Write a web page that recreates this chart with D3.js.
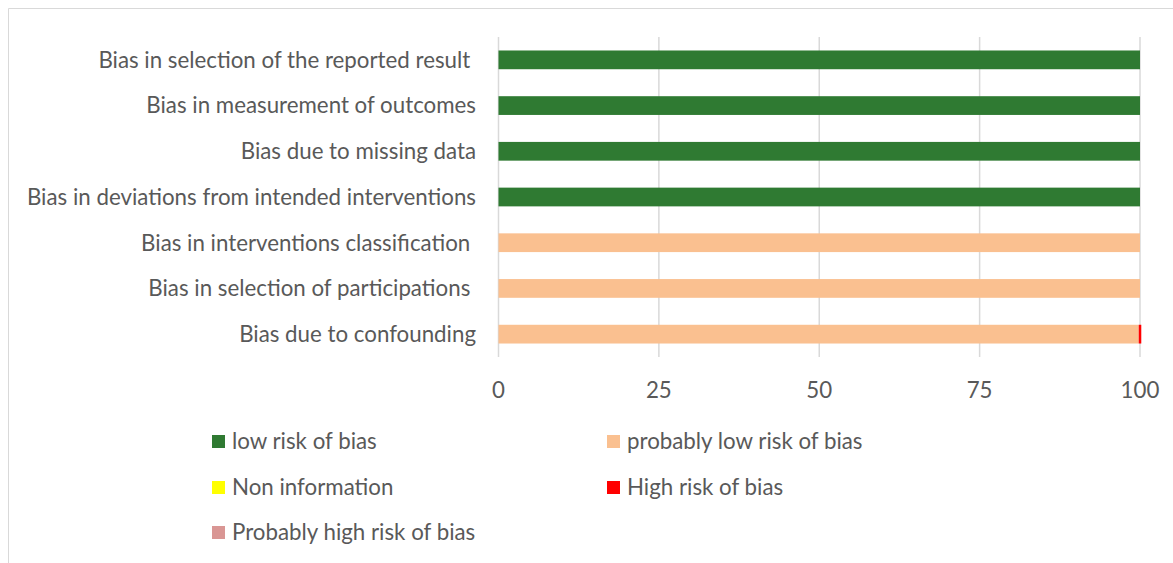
<!DOCTYPE html>
<html>
<head>
<meta charset="utf-8">
<script src="https://cdn.jsdelivr.net/npm/d3@7"></script>
<style>
  html, body { margin: 0; padding: 0; background: #fff; }
  svg text { font-family: Lato, "Open Sans", sans-serif; fill: #595959; white-space: pre; }
</style>
</head>
<body>
<svg id="chart" width="1173" height="563"></svg>
<script>
// Risk-of-bias domains, top to bottom
const domains = [
  "Bias in selection of the reported result ",
  "Bias in measurement of outcomes",
  "Bias due to missing data",
  "Bias in deviations from intended interventions",
  "Bias in interventions classification ",
  "Bias in selection of participations ",
  "Bias due to confounding"
];
const seriesNames = ["low risk of bias", "probably low risk of bias", "Non information", "High risk of bias", "Probably high risk of bias"];
const seriesColors = ["#2f7a32", "#fac090", "#ffff00", "#ff0000", "#d99694"];
// Percent of studies per judgement, one array per series (same order as domains)
const lowRisk        = [100, 100, 100, 100, 0, 0, 0];
const probablyLow    = [0, 0, 0, 0, 100, 100, 99.8];
const nonInformation = [0, 0, 0, 0, 0, 0, 0];
const highRisk       = [0, 0, 0, 0, 0, 0, 0.4];
const probablyHigh   = [0, 0, 0, 0, 0, 0, 0];
const xTicks = [0, 25, 50, 75, 100];

const fontSize = 22.3;
const svg = d3.select("#chart");

// chart frame (top and left edges visible)
svg.append("line").attr("x1", 8.5).attr("x2", 1173).attr("y1", 8.5).attr("y2", 8.5).attr("stroke", "#d9d9d9");
svg.append("line").attr("x1", 8.5).attr("x2", 8.5).attr("y1", 8.5).attr("y2", 563).attr("stroke", "#d9d9d9");

const rows = domains.map((d, i) => ({
  domain: d,
  s0: lowRisk[i], s1: probablyLow[i], s2: nonInformation[i], s3: highRisk[i], s4: probablyHigh[i]
}));
const stack = d3.stack().keys(["s0", "s1", "s2", "s3", "s4"])(rows);

const x = d3.scaleLinear().domain([0, 100]).range([498.5, 1140]);
const y = d3.scaleBand().domain(domains).range([37, 357]).paddingInner(0.59).paddingOuter(0.295);

// vertical gridlines
svg.append("g").selectAll("line").data(xTicks).join("line")
  .attr("x1", d => x(d)).attr("x2", d => x(d))
  .attr("y1", 37).attr("y2", 357)
  .attr("stroke", "#d9d9d9").attr("stroke-width", 1.5);

// stacked bars
svg.append("g").selectAll("g").data(stack).join("g")
  .attr("fill", (d, i) => seriesColors[i])
  .selectAll("rect").data(d => d).join("rect")
  .attr("x", d => x(d[0]))
  .attr("y", d => y(d.data.domain))
  .attr("width", d => Math.max(0, x(d[1]) - x(d[0])))
  .attr("height", y.bandwidth());

// category labels
svg.append("g").selectAll("text").data(domains).join("text")
  .attr("x", 476).attr("y", d => y(d) + y.bandwidth() / 2)
  .attr("dy", "0.35em").attr("text-anchor", "end")
  .attr("font-size", fontSize)
  .text(d => d);

// x axis labels
svg.append("g").selectAll("text").data(xTicks).join("text")
  .attr("x", d => x(d)).attr("y", 390).attr("dy", "0.35em")
  .attr("text-anchor", "middle").attr("font-size", fontSize)
  .text(d => d);

// legend
const legendPos = [[212, 441], [607, 441], [212, 487], [607, 487], [212, 532]];
const lg = svg.append("g").selectAll("g").data(seriesNames).join("g")
  .attr("transform", (d, i) => `translate(${legendPos[i][0]},${legendPos[i][1]})`);
lg.append("rect").attr("x", 0).attr("y", -6).attr("width", 13).attr("height", 13)
  .attr("fill", (d, i) => seriesColors[i]);
lg.append("text").attr("x", 20).attr("y", 0).attr("dy", "0.35em")
  .attr("font-size", fontSize).text(d => d);
</script>
</body>
</html>
